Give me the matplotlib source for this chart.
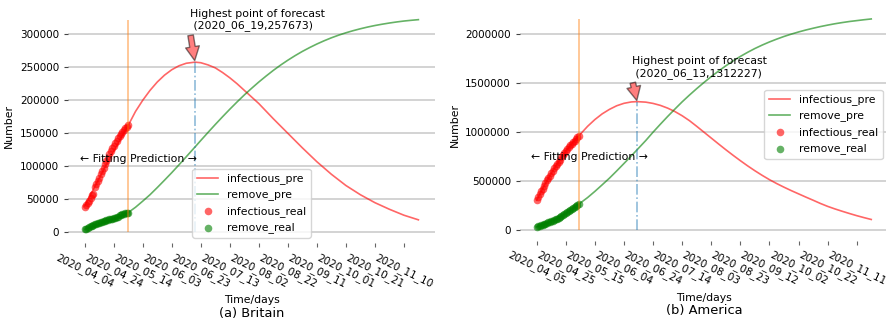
import numpy as np
import matplotlib
matplotlib.use('Agg')
import matplotlib.pyplot as plt
from matplotlib.ticker import MultipleLocator, StrMethodFormatter

# ---- Britain ----
uk_real_days = list(range(31))
uk_infectious_real = [39000, 42000, 45000, 48000, 52000, 56000, 58000, 68000, 73000, 78000,
                      83000, 88000, 93000, 98000, 103000, 108000, 113000, 118000, 123000, 127000,
                      131000, 135000, 139000, 143000, 146000, 149000, 152000, 155000, 158000, 160000,
                      162000]
uk_remove_real = [4500, 5000, 6000, 7500, 9000, 10000, 11000, 12000, 13000, 14000,
                  14500, 15500, 16000, 17000, 17500, 18000, 19000, 19500, 20000, 21000,
                  21500, 22000, 23000, 24000, 26000, 27000, 27500, 28000, 29000, 29500,
                  30000]
uk_pre_days = [0, 5, 10, 15, 20, 25, 30, 35, 40, 45, 50, 55, 60, 65, 70, 76, 80, 85, 90, 95,
               100, 105, 110, 115, 120, 125, 130, 135, 140, 145, 150, 155, 160, 165, 170,
               175, 180, 185, 190, 195, 200, 205, 210, 215, 220, 225, 230]
uk_infectious_pre = [40000, 61000, 82000, 103000, 123000, 143000, 162000, 183000, 200000,
                     214900, 227600, 238000, 246200, 252200, 256000, 257673, 256800, 253500,
                     249000, 242000, 234000, 225000, 215000, 205000, 195000, 183500, 172000,
                     161000, 150000, 139000, 128000, 117500, 107000, 97500, 88000, 79500,
                     71000, 64000, 57000, 51000, 45000, 40000, 35000, 30500, 26000, 22500,
                     19000]
uk_remove_pre = [4500, 8000, 12000, 16000, 20000, 24500, 30000, 38000, 47300, 57000, 67800,
                 79000, 90400, 102300, 114500, 129200, 139100, 151300, 163300, 175000, 186400,
                 197400, 208000, 218000, 227600, 236600, 245200, 253200, 260600, 267500,
                 273900, 279700, 285100, 290000, 294500, 298500, 302100, 305300, 308200,
                 310800, 313100, 315100, 316900, 318500, 319900, 321000, 322000]
uk_fit_end = 30
uk_peak_day = 76
uk_peak_val = 257673
uk_peak_date = '2020_06_19'
uk_ticklabels = ['2020_04_04', '2020_04_24', '2020_05_14', '2020_06_03', '2020_06_23',
                 '2020_07_13', '2020_08_02', '2020_08_22', '2020_09_11', '2020_10_01',
                 '2020_10_21', '2020_11_10']

# ---- America ----
us_real_days = list(range(30))
us_infectious_real = [305000, 335000, 365000, 394000, 423000, 451000, 479000, 507000, 532000, 556000,
                      580000, 604000, 629000, 653000, 676000, 698000, 720000, 742000, 764000, 785000,
                      806000, 828000, 846000, 864000, 881000, 898000, 915000, 932000, 948000, 963000]
us_remove_real = [33000, 38000, 43000, 49000, 54000, 60000, 66000, 72000, 78000, 84000,
                  90000, 97000, 104000, 111000, 117000, 125000, 133000, 142000, 151000, 160000,
                  170000, 182000, 193000, 203000, 213000, 223000, 233000, 243000, 254000, 265000]
us_pre_days = [0, 5, 10, 15, 20, 25, 29, 35, 40, 45, 50, 55, 60, 65, 69, 75, 80, 85, 90, 95,
               100, 105, 110, 115, 120, 125, 130, 135, 140, 145, 150, 155, 160, 165, 170,
               175, 180, 185, 190, 195, 200, 205, 210, 215, 220, 225, 230]
us_infectious_pre = [305000, 451000, 580000, 698000, 806000, 898000, 963000, 1060000, 1129000,
                     1187000, 1233000, 1270000, 1295000, 1309000, 1312227, 1307000, 1294000,
                     1274000, 1246000, 1211000, 1168000, 1118000, 1060000, 1000000, 940000,
                     880000, 821000, 764000, 709000, 656000, 606000, 559000, 515000, 475000,
                     438000, 403000, 370000, 337000, 305000, 272000, 242000, 216000, 192000,
                     169000, 147000, 127000, 108000]
us_remove_pre = [33000, 60000, 90000, 125000, 170000, 222000, 265000, 332000, 395000, 462000,
                 530000, 604000, 680000, 757000, 820000, 915000, 1000000, 1081000, 1160000,
                 1236000, 1310000, 1379000, 1445000, 1508000, 1568000, 1624000, 1678000,
                 1728000, 1774000, 1816000, 1855000, 1890000, 1922000, 1951000, 1978000,
                 2002000, 2024000, 2044000, 2062000, 2079000, 2094000, 2108000, 2120000,
                 2131000, 2140000, 2149000, 2157000]
us_fit_end = 29
us_peak_day = 69
us_peak_val = 1312227
us_peak_date = '2020_06_13'
us_ticklabels = ['2020_04_05', '2020_04_25', '2020_05_15', '2020_06_04', '2020_06_24',
                 '2020_07_14', '2020_08_03', '2020_08_23', '2020_09_12', '2020_10_02',
                 '2020_10_22', '2020_11_11']

FS = 7.8


def draw(ax, real_days, inf_real, rem_real, pre_days, inf_pre, rem_pre,
         fit_end, peak_day, peak_val, peak_date, ticklabels, ystep, title, legend_loc):
    l1, = ax.plot(pre_days, inf_pre, color='r', alpha=0.6, lw=1.2, label='infectious_pre')
    l2, = ax.plot(pre_days, rem_pre, color='g', alpha=0.6, lw=1.2, label='remove_pre')
    s1 = ax.scatter(real_days, inf_real, color='r', alpha=0.6, s=30, lw=0, label='infectious_real')
    s2 = ax.scatter(real_days, rem_real, color='g', alpha=0.6, s=30, lw=0, label='remove_real')
    top = max(rem_pre)
    ax.vlines(fit_end, 0, top, color='C1', alpha=0.5, lw=1.2)
    ax.vlines(peak_day, 0, peak_val, color='C0', alpha=0.5, lw=1.2, linestyles='-.')
    ax.annotate('Highest point of forecast\n (%s,%d)' % (peak_date, peak_val),
                xy=(peak_day, peak_val), xytext=(peak_day - 3.5, peak_val * 1.2),
                fontsize=FS,
                arrowprops=dict(facecolor='red', alpha=0.5, width=4, headwidth=10,
                                headlength=10, shrink=0.05))
    ax.text(fit_end + 7, top * 0.345, '← Fitting Prediction →', ha='center', va='center',
            fontsize=FS)

    ax.set_xticks(range(0, 221, 20))
    ax.set_xticklabels(ticklabels, rotation=-26, fontsize=7.5)
    ax.yaxis.set_major_locator(MultipleLocator(ystep))
    ax.yaxis.set_major_formatter(StrMethodFormatter('{x:.0f}'))
    ax.tick_params(axis='y', labelsize=7.5, length=3, color='#444444')
    ax.tick_params(axis='x', length=3, color='#666666')
    for sp in ax.spines.values():
        sp.set_visible(False)
    ax.grid(axis='y', color='#c8c8c8', lw=1.1)
    ax.set_axisbelow(True)
    ax.set_xlabel('Time/days', fontsize=FS)
    ax.set_ylabel('Number', fontsize=FS)
    ax.text(0.5, -0.30, title, transform=ax.transAxes, ha='center', va='center', fontsize=9.4)
    ax.legend(handles=[l1, l2, s1, s2], loc=legend_loc, fontsize=7.8)


fig = plt.figure(figsize=(8.87, 3.22), dpi=100)
ax1 = fig.add_axes([0.0767, 0.2453, 0.4138, 0.7267])
ax2 = fig.add_axes([0.5862, 0.2528, 0.4149, 0.7211])

draw(ax1, uk_real_days, uk_infectious_real, uk_remove_real, uk_pre_days, uk_infectious_pre,
     uk_remove_pre, uk_fit_end, uk_peak_day, uk_peak_val, uk_peak_date, uk_ticklabels,
     50000, '(a) Britain', 'lower center')
draw(ax2, us_real_days, us_infectious_real, us_remove_real, us_pre_days, us_infectious_pre,
     us_remove_pre, us_fit_end, us_peak_day, us_peak_val, us_peak_date, us_ticklabels,
     500000, '(b) America', 'center right')

fig.savefig('out.png', dpi=100)
